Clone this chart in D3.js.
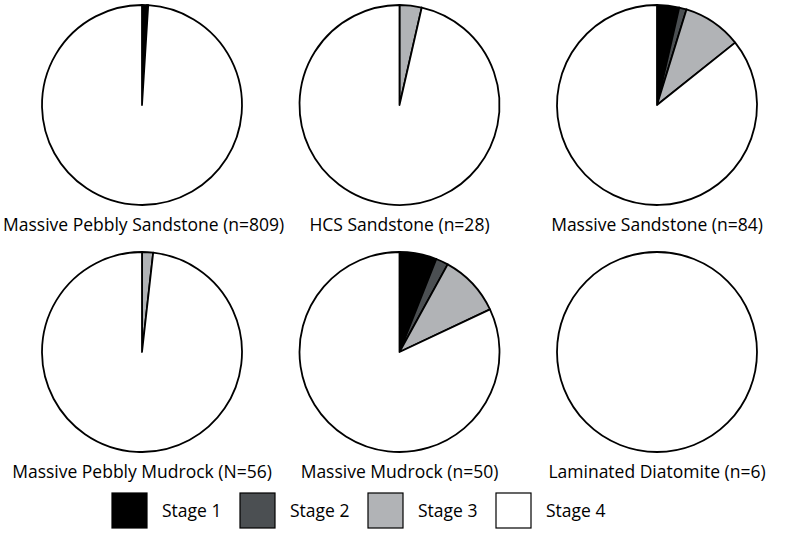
<!DOCTYPE html>
<html>
<head>
<meta charset="utf-8">
<script src="https://cdn.jsdelivr.net/npm/d3@7"></script>
<style>
  body { margin: 0; background: #fff; }
  text { font-family: "Open Sans", sans-serif; fill: #000; }
</style>
</head>
<body>
<svg width="786" height="536"></svg>
<script>
const stages = ['Stage 1', 'Stage 2', 'Stage 3', 'Stage 4'];
const stageColors = ['#000000', '#4b4f52', '#b1b3b6', '#ffffff'];
const facies = [
  'Massive Pebbly Sandstone (n=809)', 'HCS Sandstone (n=28)', 'Massive Sandstone (n=84)',
  'Massive Pebbly Mudrock (N=56)', 'Massive Mudrock (n=50)', 'Laminated Diatomite (n=6)'
];
// counts per stage 1..4
const counts = [
  [6, 1, 1, 801],
  [0, 0, 1, 27],
  [3, 1, 8, 72],
  [0, 0, 1, 55],
  [3, 1, 5, 41],
  [0, 0, 0, 6]
];

const svg = d3.select('svg');
const width = +svg.attr('width');
const radius = 100;
const colX = d3.scalePoint().domain([0, 1, 2]).range([142, 657]);
const rowY = d3.scalePoint().domain([0, 1]).range([105, 352]);
const color = d3.scaleOrdinal().domain(stages).range(stageColors);

const pie = d3.pie().sort(null).value(d => d.v);
const arc = d3.arc().innerRadius(0).outerRadius(radius);

facies.forEach((name, i) => {
  const col = i % 3, row = Math.floor(i / 3);
  const cx = colX(col);
  const g = svg.append('g')
    .attr('transform', `translate(${cx},${rowY(row)})`);

  const data = counts[i].map((v, k) => ({ stage: stages[k], v: v }));
  g.selectAll('path').data(pie(data).filter(d => d.data.v > 0))
    .enter().append('path')
      .attr('d', arc)
      .attr('fill', d => color(d.data.stage))
      .attr('stroke', '#000')
      .attr('stroke-width', 1.8)
      .attr('stroke-linejoin', 'round');

  const label = g.append('text')
    .attr('x', 0)
    .attr('y', radius + 26)
    .attr('text-anchor', 'middle')
    .style('font-size', '17.5px')
    .text(name);

  // keep labels inside the page
  const half = label.node().getComputedTextLength() / 2;
  const shift = Math.max(0, half + 3 - cx) - Math.max(0, cx + half + 3 - width);
  label.attr('x', shift);
});

const legendX = d3.scalePoint().domain(stages).range([112, 496]);
const legend = svg.append('g').attr('transform', 'translate(0,493)');
const item = legend.selectAll('g').data(stages)
  .enter().append('g')
    .attr('transform', d => `translate(${legendX(d)},0)`);
item.append('rect')
  .attr('width', 35).attr('height', 35)
  .attr('fill', d => color(d))
  .attr('stroke', '#000').attr('stroke-width', 1.2);
item.append('text')
  .attr('x', 50).attr('y', 24)
  .style('font-size', '17.5px')
  .text(d => d);
</script>
</body>
</html>
